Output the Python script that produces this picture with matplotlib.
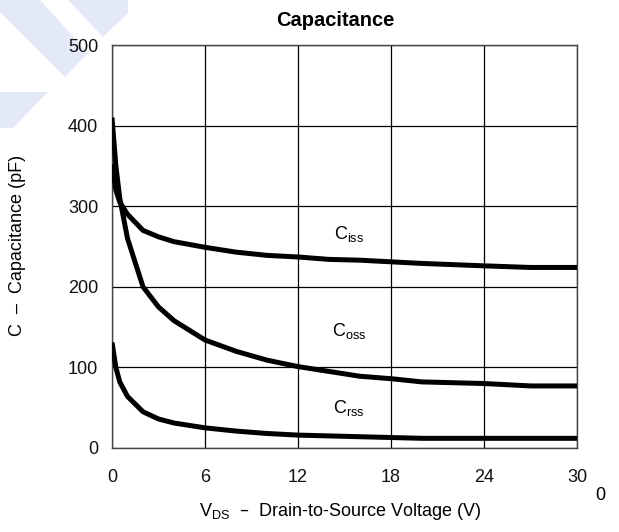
import matplotlib
matplotlib.use("Agg")
import matplotlib.pyplot as plt
from matplotlib.patches import Polygon

plt.rcParams["font.family"] = ["Liberation Sans", "DejaVu Sans"]

vds = [0, 0.25, 0.5, 1, 2, 3, 4, 6, 8, 10, 12, 14, 16, 18, 20, 24, 27, 30]
ciss = [352, 320, 305, 290, 270, 262, 256, 249, 243, 239, 237, 234, 233, 231, 229, 226, 224, 224]
coss = [410, 350, 310, 260, 200, 175, 158, 134, 120, 109, 101, 95, 89, 86, 82, 80, 77, 77]
crss = [131, 100, 82, 64, 45, 36, 31, 25, 21, 18, 16, 15, 14, 13, 12, 12, 12, 12]

x_ticks = [0, 6, 12, 18, 24, 30]
y_ticks = [0, 100, 200, 300, 400, 500]

W, H = 619, 532
fig = plt.figure(figsize=(W / 100, H / 100), dpi=100)

# faint watermark chevrons in the corner
wm = "#e4e9f7"
for pts in [
    [(0, 0), (40, 0), (88, 53), (65, 77), (0, 12)],
    [(68, 0), (128, 0), (128, 13), (103, 37)],
    [(0, 92), (48, 92), (13, 128), (0, 128)],
]:
    fig.patches.append(Polygon([(x / W, 1 - y / H) for x, y in pts],
                               closed=True, color=wm, lw=0,
                               transform=fig.transFigure, zorder=-5))

ax = fig.add_axes([112 / W, 1 - 448 / H, (577 - 112) / W, (448 - 45) / H])
ax.set_facecolor("none")

for y in (ciss, coss, crss):
    ax.plot(vds, y, color="black", lw=3.6, solid_capstyle="butt", zorder=3)

ax.set_xlim(0, 30)
ax.set_ylim(0, 500)
ax.set_xticks(x_ticks)
ax.set_yticks(y_ticks)
ax.tick_params(length=0, labelsize=13, colors="#111111")
ax.tick_params(axis="x", pad=15)
ax.tick_params(axis="y", pad=10)
ax.grid(True, color="black", lw=0.9)
for s in ax.spines.values():
    s.set_color("#444444")
    s.set_linewidth(1)

ax.text(15.3, 265, "C$_{\\mathregular{iss}}$", fontsize=13, ha="center", va="center")
ax.text(15.3, 145, "C$_{\\mathregular{oss}}$", fontsize=13, ha="center", va="center")
ax.text(15.3, 50, "C$_{\\mathregular{rss}}$", fontsize=13, ha="center", va="center")

fig.text(335 / W, 1 - 20 / H, "Capacitance", fontsize=14.5, fontweight="bold",
         ha="center", va="center")
fig.text(340 / W, 1 - 511 / H, "V$_{\\mathregular{DS}}$  –  Drain-to-Source Voltage (V)",
         fontsize=13, ha="center", va="center")
fig.text(18 / W, 1 - 245 / H, "C  –  Capacitance (pF)", fontsize=13,
         rotation=90, ha="center", va="center")
fig.text(600 / W, 1 - 495 / H, "0", fontsize=13, ha="center", va="center")

fig.savefig("out.png", dpi=100)
